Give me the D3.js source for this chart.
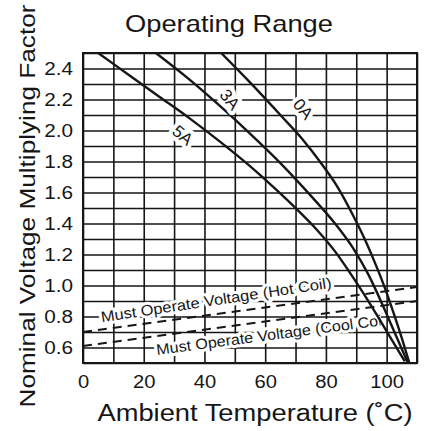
<!DOCTYPE html>
<html>
<head>
<meta charset="utf-8">
<script src="https://cdn.jsdelivr.net/npm/d3@7"></script>
<style>
body { margin: 0; background: #fff; }
text { font-family: "Liberation Sans", Arial, sans-serif; fill: #161616; }
</style>
</head>
<body>
<div id="chart"></div>
<script>
// curves: ambient temperature (C) vs voltage factor
var temp5A = [5, 15, 25, 35, 45, 55, 63, 70, 77, 83, 88, 93, 98, 102, 106];
var volt5A = [2.5, 2.36, 2.22, 2.08, 1.93, 1.77, 1.63, 1.50, 1.36, 1.22, 1.08, 0.93, 0.77, 0.64, 0.51];
var temp3A = [24, 35, 45, 55, 65, 75, 83, 89, 94, 99, 103, 107];
var volt3A = [2.5, 2.33, 2.16, 1.98, 1.79, 1.58, 1.40, 1.24, 1.07, 0.86, 0.68, 0.50];
var temp0A = [45.5, 55, 65, 72, 78, 84, 89, 93, 96.5, 99.5, 102.5, 105, 107.5];
var volt0A = [2.5, 2.31, 2.10, 1.95, 1.80, 1.63, 1.45, 1.29, 1.13, 0.98, 0.81, 0.66, 0.50];

var tempMust = [0, 110];
var voltHot = [0.70, 0.99];
var voltCool = [0.61, 0.90];

var xLabels = [0, 20, 40, 60, 80, 100];
var yLabels = [0.6, 0.8, 1.0, 1.2, 1.4, 1.6, 1.8, 2.0, 2.2, 2.4];

var margin = { top: 53, right: 10, bottom: 68, left: 83 },
    width = 427 - margin.left - margin.right,
    height = 431 - margin.top - margin.bottom;

var svg = d3.select("#chart")
    .append("svg")
    .attr("width", 427)
    .attr("height", 431);

var g = svg.append("g")
    .attr("transform", "translate(" + margin.left + "," + margin.top + ")");

var x = d3.scaleLinear().domain([0, 110]).range([0, width]);
var y = d3.scaleLinear().domain([0.5, 2.5]).range([height, 0]);

// stretch text a bit wider, the scan is wider than plain Arial
function widen(sel, k) {
    sel.each(function () {
        var len = this.getComputedTextLength();
        if (len > 0) {
            d3.select(this).attr("textLength", len * k).attr("lengthAdjust", "spacingAndGlyphs");
        }
    });
}

// grid + tick labels
var xAxis = g.append("g")
    .attr("transform", "translate(0," + height + ")")
    .call(d3.axisBottom(x)
        .tickValues(x.ticks(11))
        .tickSize(-height)
        .tickPadding(12)
        .tickFormat(function (d) { return xLabels.indexOf(d) >= 0 ? d : ""; }));

var yAxis = g.append("g")
    .call(d3.axisLeft(y)
        .tickValues(y.ticks(20))
        .tickSize(-width)
        .tickPadding(10)
        .tickFormat(function (d) {
            var hit = yLabels.some(function (v) { return Math.abs(v - d) < 1e-6; });
            return hit ? d3.format(".1f")(d) : "";
        }));

[xAxis, yAxis].forEach(function (a) {
    a.select(".domain").remove();
    a.selectAll("line").attr("stroke", "#161616").attr("stroke-width", 1.6);
    a.selectAll("text").style("font-size", "18px").attr("fill", "#161616");
});
widen(xAxis.selectAll("text"), 1.12);
widen(yAxis.selectAll("text"), 1.15);

g.append("rect")
    .attr("width", width)
    .attr("height", height)
    .attr("fill", "none")
    .attr("stroke", "#161616")
    .attr("stroke-width", 2);

g.append("clipPath").attr("id", "plotClip")
    .append("rect").attr("width", width).attr("height", height);
g.append("clipPath").attr("id", "coolClip")
    .append("rect").attr("width", x(98)).attr("height", height);

// must operate lines
var mustLine = d3.line()
    .x(function (d) { return x(d[0]); })
    .y(function (d) { return y(d[1]); });

[voltHot, voltCool].forEach(function (vals) {
    g.append("path")
        .datum(d3.zip(tempMust, vals))
        .attr("d", mustLine)
        .attr("fill", "none")
        .attr("stroke", "#161616")
        .attr("stroke-width", 2)
        .attr("stroke-dasharray", "9,6");
});

// must operate labels
g.append("text")
    .attr("transform", "translate(" + x(44.1) + "," + y(0.874) + ") rotate(-8.5)")
    .attr("text-anchor", "middle")
    .style("font-size", "15px")
    .attr("stroke", "#fff")
    .attr("stroke-width", 6)
    .attr("paint-order", "stroke")
    .attr("stroke-linejoin", "round")
    .attr("textLength", 233)
    .attr("lengthAdjust", "spacingAndGlyphs")
    .text("Must Operate Voltage (Hot Coil)");

g.append("g").attr("clip-path", "url(#coolClip)")
    .append("text")
    .attr("transform", "translate(" + x(24.4) + "," + y(0.552) + ") rotate(-7.5)")
    .attr("text-anchor", "start")
    .style("font-size", "15px")
    .attr("stroke", "#fff")
    .attr("stroke-width", 6)
    .attr("paint-order", "stroke")
    .attr("stroke-linejoin", "round")
    .attr("textLength", 236)
    .attr("lengthAdjust", "spacingAndGlyphs")
    .text("Must Operate Voltage (Cool Coil)");

// current curves
var curveLine = d3.line()
    .x(function (d) { return x(d[0]); })
    .y(function (d) { return y(d[1]); })
    .curve(d3.curveMonotoneX);

var curves = [
    { name: "5A", pts: d3.zip(temp5A, volt5A), lx: 32.9, ly: 1.97, rot: 40 },
    { name: "3A", pts: d3.zip(temp3A, volt3A), lx: 48.4, ly: 2.20, rot: 50 },
    { name: "0A", pts: d3.zip(temp0A, volt0A), lx: 72.5, ly: 2.14, rot: 50 }
];

var cg = g.append("g").attr("clip-path", "url(#plotClip)");
cg.selectAll("path.cur")
    .data(curves)
    .enter()
    .append("path")
    .attr("class", "cur")
    .attr("d", function (d) { return curveLine(d.pts); })
    .attr("fill", "none")
    .attr("stroke", "#161616")
    .attr("stroke-width", 2.4);

g.selectAll("text.cl")
    .data(curves)
    .enter()
    .append("text")
    .attr("class", "cl")
    .attr("transform", function (d) { return "translate(" + x(d.lx) + "," + y(d.ly) + ") rotate(" + d.rot + ")"; })
    .attr("text-anchor", "middle")
    .attr("dy", "0.35em")
    .style("font-size", "17px")
    .attr("stroke", "#fff")
    .attr("stroke-width", 8)
    .attr("paint-order", "stroke")
    .attr("stroke-linejoin", "round")
    .text(function (d) { return d.name; });

// titles
svg.append("text")
    .attr("x", 229)
    .attr("y", 32)
    .attr("text-anchor", "middle")
    .style("font-size", "24px")
    .attr("textLength", 208)
    .attr("lengthAdjust", "spacingAndGlyphs")
    .text("Operating Range");

svg.append("text")
    .attr("x", 255)
    .attr("y", 421)
    .attr("text-anchor", "middle")
    .style("font-size", "23px")
    .attr("textLength", 315)
    .attr("lengthAdjust", "spacingAndGlyphs")
    .text("Ambient Temperature (\u02DAC)");

svg.append("text")
    .attr("transform", "translate(35,206) rotate(-90)")
    .attr("text-anchor", "middle")
    .style("font-size", "22px")
    .attr("textLength", 403)
    .attr("lengthAdjust", "spacingAndGlyphs")
    .text("Nominal Voltage Multiplying Factor");
</script>
</body>
</html>
